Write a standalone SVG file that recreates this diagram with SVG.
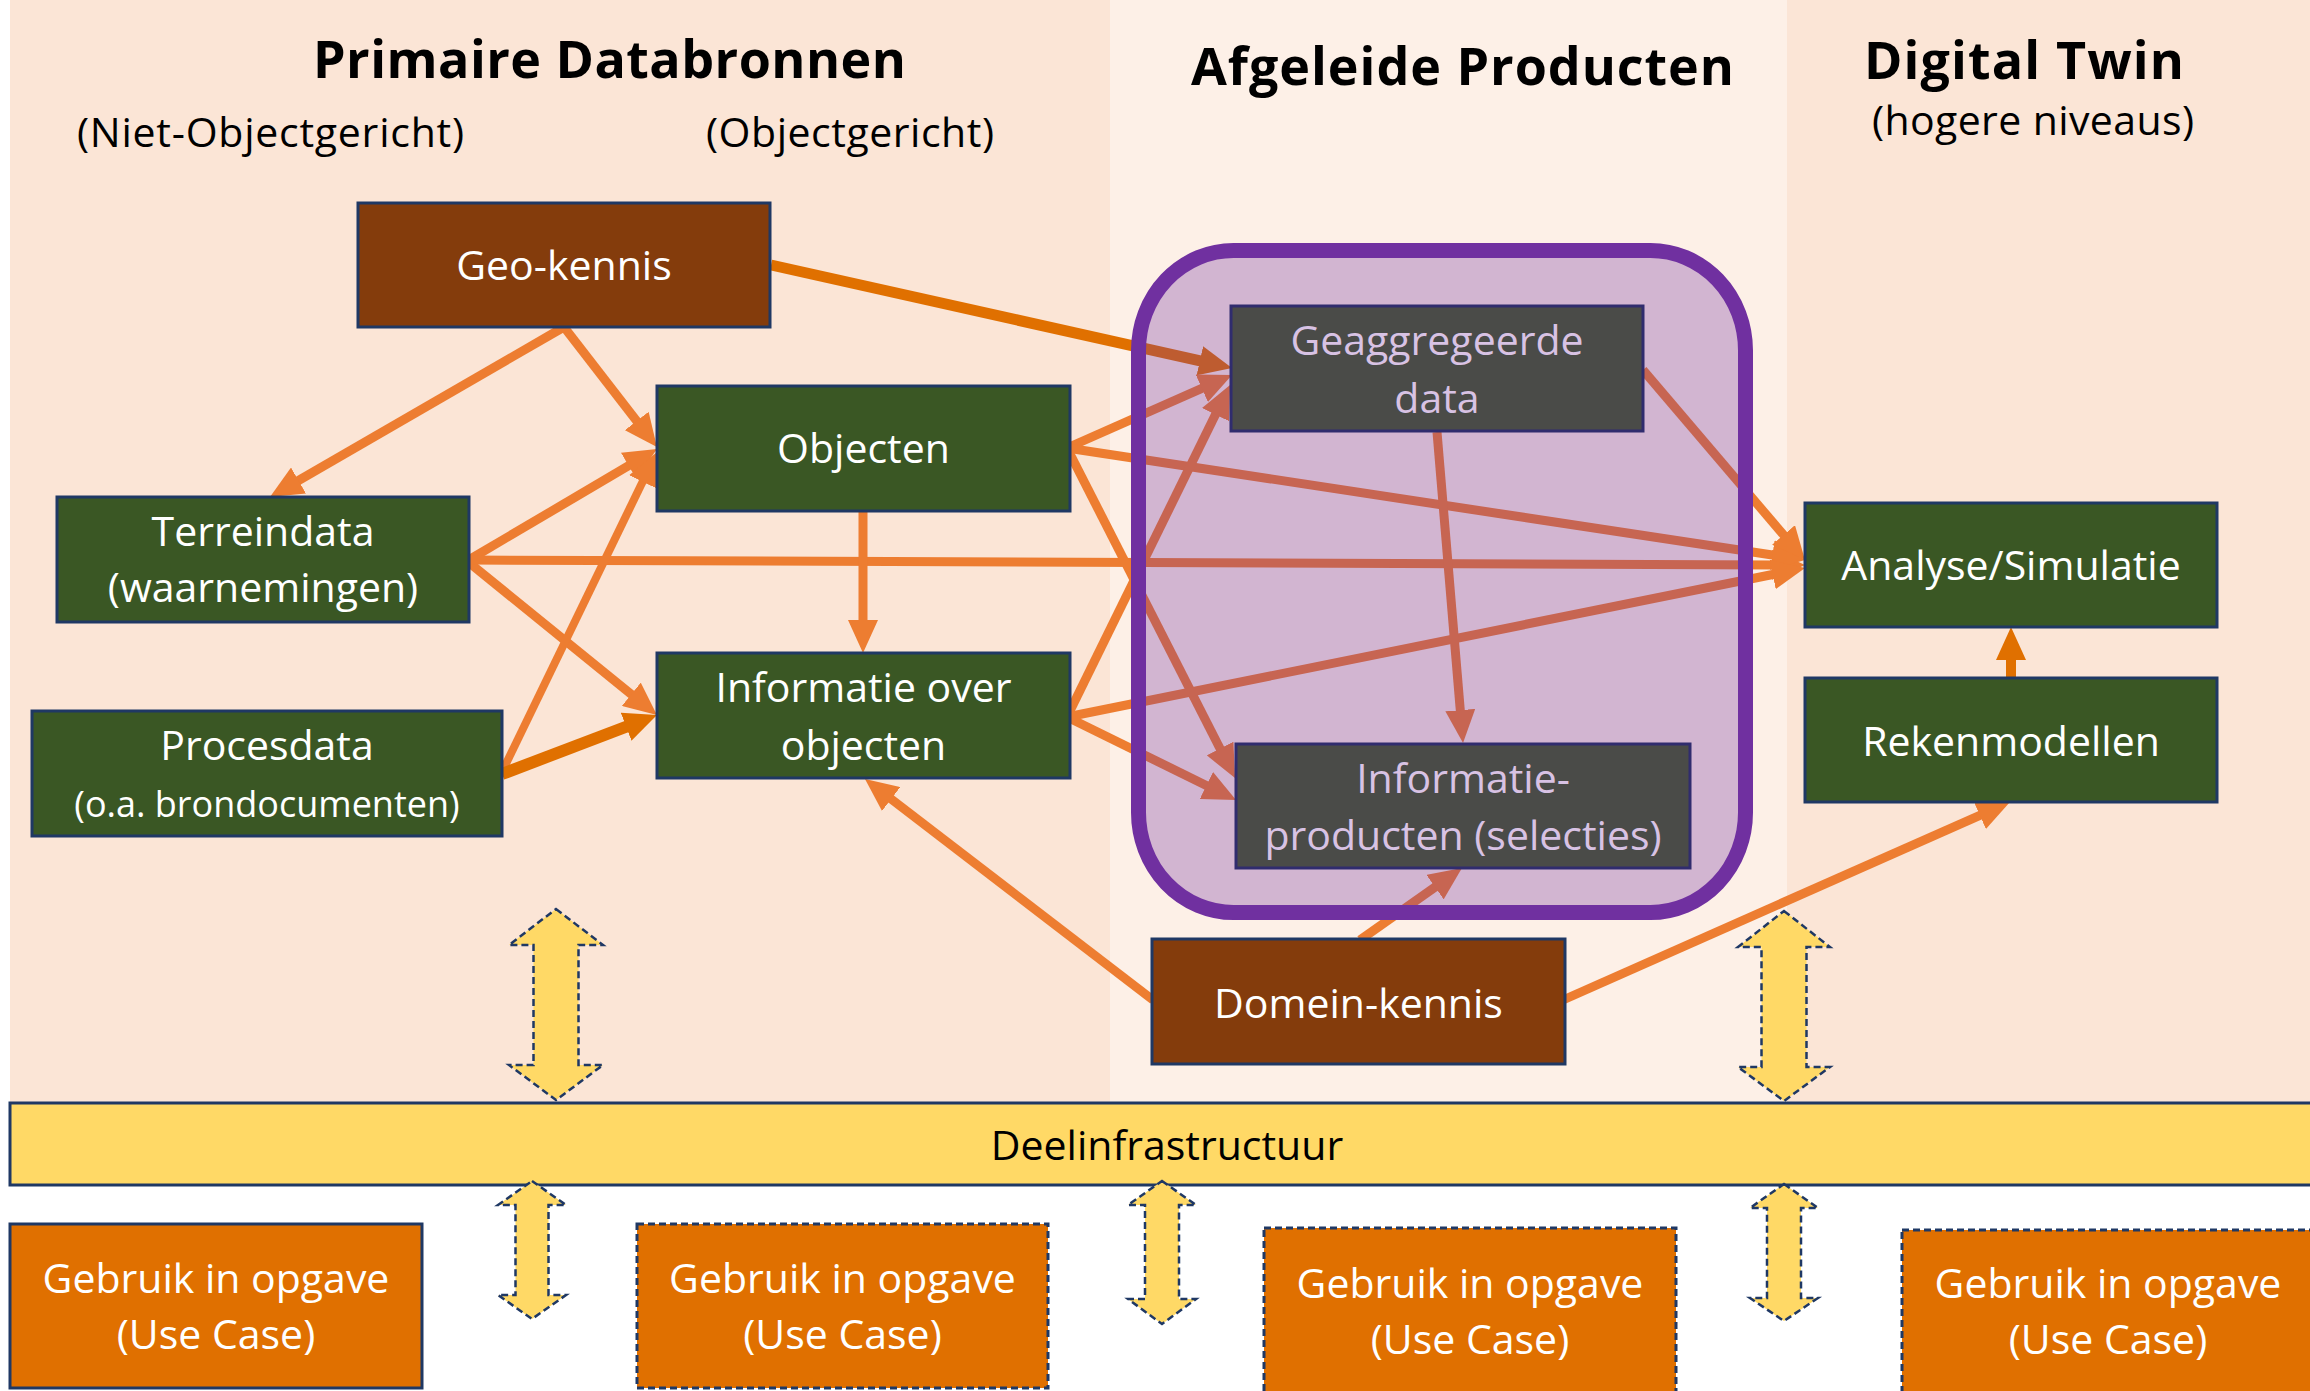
<svg xmlns="http://www.w3.org/2000/svg" width="2310" height="1391" viewBox="0 0 2310 1391">
<style>
text{font-family:"Open Sans","Noto Sans","Liberation Sans",sans-serif}
.title{font-size:52px;font-weight:bold;fill:#000}
.sub{font-size:41px;fill:#000}
.lbl{font-size:41px;fill:#fff;text-anchor:middle}
.lbl2{font-size:41px;fill:#D8C2E4;text-anchor:middle}
.green{fill:#3A5724;stroke:#1F3864;stroke-width:3}
.brown{fill:#843C0C;stroke:#1F3864;stroke-width:3}
.grey{fill:#4A4B48;stroke:#302C6E;stroke-width:3}
.uc{fill:#E07000;stroke:#1F3864;stroke-width:3}
.ucd{fill:#E07000;stroke:#1F3864;stroke-width:3;stroke-dasharray:7 4}
.c{fill:none;stroke:#ED7D31;stroke-width:9;marker-end:url(#ah)}
.cd{fill:none;stroke:#E07000;stroke-width:11;marker-end:url(#ahd)}
.dbl{fill:#FFD966;stroke:#1F3864;stroke-width:2.5;stroke-dasharray:7 4}
</style>
<defs>
<marker id="ah" markerUnits="userSpaceOnUse" markerWidth="33" markerHeight="30" viewBox="0 0 33 30" refX="5" refY="15" orient="auto"><path d="M0,0 L33,15 L0,30 z" fill="#ED7D31"/></marker>
<marker id="ahd" markerUnits="userSpaceOnUse" markerWidth="33" markerHeight="30" viewBox="0 0 33 30" refX="5" refY="15" orient="auto"><path d="M0,0 L33,15 L0,30 z" fill="#E07000"/></marker>
</defs>
<rect x="0" y="0" width="2310" height="1391" fill="#fff"/>
<g id="panels">
<rect x="10" y="0" width="1100" height="1103" fill="#FBE5D6"/>
<rect x="1110" y="0" width="677" height="1103" fill="#FDF0E7"/>
<rect x="1787" y="0" width="523" height="1103" fill="#FBE5D6"/>
</g>
<g id="headings">
<text class="title" x="313" y="78" textLength="593">Primaire Databronnen</text>
<text class="sub" x="77" y="147" textLength="387">(Niet-Objectgericht)</text>
<text class="sub" x="706" y="147" textLength="288">(Objectgericht)</text>
<text class="title" x="1191" y="85" textLength="543">Afgeleide Producten</text>
<text class="title" x="1864" y="79" textLength="320">Digital Twin</text>
<text class="sub" x="1872" y="135" textLength="322">(hogere niveaus)</text>
</g>
<g id="connectors">
<line class="cd" x1="771" y1="265" x2="1204.7" y2="361.9"/>
<line class="c" x1="564" y1="327" x2="294.2" y2="483"/>
<line class="c" x1="564" y1="327" x2="639.8" y2="424.9"/>
<line class="c" x1="467" y1="561" x2="632.9" y2="463.2"/>
<line class="c" x1="467" y1="561" x2="635.2" y2="697.4"/>
<line class="c" x1="467" y1="560" x2="1777" y2="564.9"/>
<line class="c" style="stroke-width:8" x1="502" y1="772" x2="644.8" y2="477.2"/>
<line class="cd" style="stroke-width:12" x1="502" y1="774" x2="630.8" y2="725"/>
<line class="c" x1="863" y1="511" x2="863" y2="625"/>
<line class="c" x1="1067" y1="448" x2="1206.4" y2="386.3"/>
<line class="c" x1="1067" y1="448" x2="1222.3" y2="753"/>
<line class="c" x1="1067" y1="448" x2="1777.3" y2="555.8"/>
<line class="c" x1="1067" y1="717" x2="1217.7" y2="410.1"/>
<line class="c" x1="1067" y1="717" x2="1777.6" y2="573.5"/>
<line class="c" x1="1067" y1="717" x2="1210.9" y2="787.7"/>
<line class="c" x1="1643" y1="370" x2="1786.8" y2="538.7"/>
<line class="c" x1="1437" y1="432" x2="1460.7" y2="715.1"/>
<line class="c" x1="1153" y1="1000" x2="887.2" y2="796"/>
<line class="c" x1="1360" y1="940" x2="1439.1" y2="884.2"/>
<line class="c" x1="1563" y1="1000" x2="1984.4" y2="813.3"/>
<line class="cd" style="stroke-width:10" x1="2011" y1="678" x2="2011" y2="655"/>
</g>
<g id="afgeleide-groep">
<rect x="1138.5" y="250.5" width="607" height="662" rx="95" ry="100" fill="#7030A0" fill-opacity="0.3" stroke="#7030A0" stroke-width="15"/>
</g>
<g id="geo-kennis"><rect class="brown" x="358" y="203" width="412" height="124"/><text class="lbl" x="564" y="280">Geo-kennis</text></g>
<g id="objecten"><rect class="green" x="657" y="386" width="413" height="125"/><text class="lbl" x="863.5" y="463">Objecten</text></g>
<g id="terreindata"><rect class="green" x="57" y="497" width="412" height="125"/><text class="lbl" x="263" y="546">Terreindata</text><text class="lbl" x="263" y="602">(waarnemingen)</text></g>
<g id="informatie-over-objecten"><rect class="green" x="657" y="653" width="413" height="125"/><text class="lbl" x="863.5" y="702">Informatie over</text><text class="lbl" x="863.5" y="760">objecten</text></g>
<g id="procesdata"><rect class="green" x="32" y="711" width="470" height="125"/><text class="lbl" x="267" y="760">Procesdata</text><text class="lbl" style="font-size:36px" x="267" y="817">(o.a. brondocumenten)</text></g>
<g id="geaggregeerde-data"><rect class="grey" x="1231" y="306" width="412" height="125"/><text class="lbl2" x="1437" y="355">Geaggregeerde</text><text class="lbl2" x="1437" y="413">data</text></g>
<g id="informatieproducten"><rect class="grey" x="1236" y="744" width="454" height="124"/><text class="lbl2" x="1463" y="793">Informatie-</text><text class="lbl2" x="1463" y="850">producten (selecties)</text></g>
<g id="analyse-simulatie"><rect class="green" x="1805" y="503" width="412" height="124"/><text class="lbl" x="2011" y="580">Analyse/Simulatie</text></g>
<g id="rekenmodellen"><rect class="green" x="1805" y="678" width="412" height="124"/><text class="lbl" x="2011" y="756">Rekenmodellen</text></g>
<g id="domein-kennis"><rect class="brown" x="1152" y="939" width="413" height="125"/><text class="lbl" x="1358.5" y="1018">Domein-kennis</text></g>
<g id="deelinfrastructuur"><rect x="10" y="1103" width="2310" height="82" fill="#FFD966" stroke="#1F3864" stroke-width="3"/><text class="sub" x="1167" y="1160" text-anchor="middle">Deelinfrastructuur</text></g>
<g id="usecase-1"><rect class="uc" x="10" y="1224" width="412" height="164"/><text class="lbl" x="216" y="1293">Gebruik in opgave</text><text class="lbl" x="216" y="1349">(Use Case)</text></g>
<g id="usecase-2"><rect class="ucd" x="637" y="1224" width="411" height="164"/><text class="lbl" x="842.5" y="1293">Gebruik in opgave</text><text class="lbl" x="842.5" y="1349">(Use Case)</text></g>
<g id="usecase-3"><rect class="ucd" x="1264" y="1228" width="412" height="170"/><text class="lbl" x="1470" y="1298">Gebruik in opgave</text><text class="lbl" x="1470" y="1354">(Use Case)</text></g>
<g id="usecase-4"><rect class="ucd" x="1902" y="1230" width="412" height="170"/><text class="lbl" x="2108" y="1298">Gebruik in opgave</text><text class="lbl" x="2108" y="1354">(Use Case)</text></g>
<g id="uitwisseling">
<polygon class="dbl" points="556,909 603,945 578.5,945 578.5,1065 603,1065 556,1100 509,1065 533.5,1065 533.5,945 509,945"/>
<polygon class="dbl" points="1784,911 1830,947 1806.5,947 1806.5,1067 1830,1067 1784,1101 1738,1067 1761.5,1067 1761.5,947 1738,947"/>
<polygon class="dbl" points="532,1181 566,1205 548.5,1205 548.5,1295 566,1295 532,1319 498,1295 515.5,1295 515.5,1205 498,1205"/>
<polygon class="dbl" points="1162,1181 1196,1205 1179,1205 1179,1299 1196,1299 1162,1324 1128,1299 1145,1299 1145,1205 1128,1205"/>
<polygon class="dbl" points="1784,1184 1818,1208 1801,1208 1801,1298 1818,1298 1784,1321 1750,1298 1767,1298 1767,1208 1750,1208"/>
</g>
</svg>
